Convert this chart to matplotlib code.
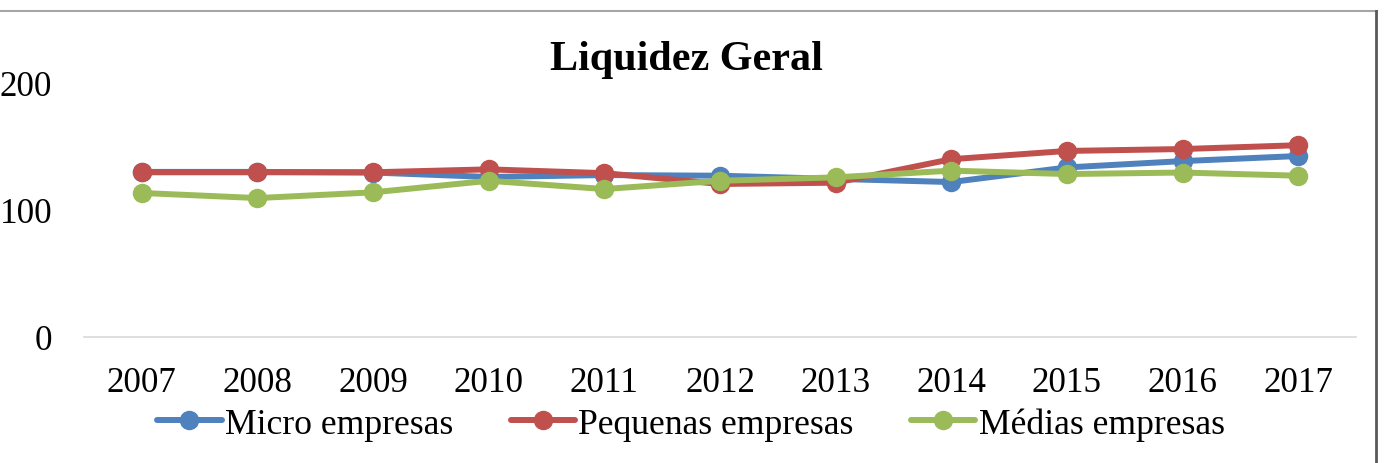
import matplotlib
matplotlib.use("Agg")
import matplotlib.pyplot as plt
from matplotlib.lines import Line2D

years = ["2007", "2008", "2009", "2010", "2011", "2012", "2013", "2014", "2015", "2016", "2017"]
micro = [130, 130, 129.5, 126, 127.5, 127, 124.5, 122, 133.5, 138.5, 142.5]
pequenas = [129.7, 129.7, 129.7, 132, 129, 120.5, 121.5, 140, 146.5, 148, 151]
medias = [113.4, 109.4, 113.9, 123, 116.5, 123, 125.7, 131, 128.3, 129.5, 127]
series_names = ["Micro empresas", "Pequenas empresas", "Médias empresas"]
colors = ["#4F81BD", "#C0504D", "#9BBB59"]
title = "Liquidez Geral"
yticks = [0, 100, 200]

W, H = 1384, 464
plt.rcParams['font.family'] = ['Liberation Serif', 'DejaVu Serif']
fig = plt.figure(figsize=(W / 100, H / 100), dpi=100)

ax_left, ax_right, ax_top, ax_bot = 84, 1356, 84, 338
ax = fig.add_axes([ax_left / W, (H - ax_bot) / H, (ax_right - ax_left) / W, (ax_bot - ax_top) / H])

x = list(range(len(years)))
handles = []
for vals, name, c in zip([micro, pequenas, medias], series_names, colors):
    h, = ax.plot(x, vals, color=c, lw=4.3, marker='o', markersize=13, label=name,
                 solid_capstyle='round', clip_on=False)
    handles.append(h)

ax.set_xlim(-0.5, len(years) - 0.5)
ax.set_ylim(0, 200)
ax.set_xticks(x)
ax.set_xticklabels(years, fontsize=25.2)
ax.set_yticks(yticks)
ax.set_yticklabels([str(v) for v in yticks], fontsize=25.2)
ax.tick_params(axis='both', length=0)
ax.tick_params(axis='x', pad=21)
ax.tick_params(axis='y', pad=23)
for s in ['top', 'right', 'left']:
    ax.spines[s].set_visible(False)
ax.spines['bottom'].set_color('#d9d9d9')
ax.spines['bottom'].set_linewidth(1.2)

fig.text(686 / W, 1 - 60 / H, title, ha='center', va='center', fontsize=30.3, fontweight='bold')

leg = fig.legend(handles=handles, loc='center', bbox_to_anchor=(691 / W, 1 - 425 / H), ncol=3,
                 frameon=False, fontsize=25.7, handlelength=1.8, handletextpad=0.1,
                 columnspacing=1.6, borderaxespad=0, borderpad=0)

# outer frame lines
fig.add_artist(Line2D([0, 1377 / W], [1 - 12 / H, 1 - 12 / H], transform=fig.transFigure,
                      color='#a6a6a6', lw=1.5))
fig.add_artist(Line2D([1376 / W, 1376 / W], [1 - 12 / H, 0], transform=fig.transFigure,
                      color='#595959', lw=2))

fig.savefig("out.png", dpi=100, facecolor='white')
